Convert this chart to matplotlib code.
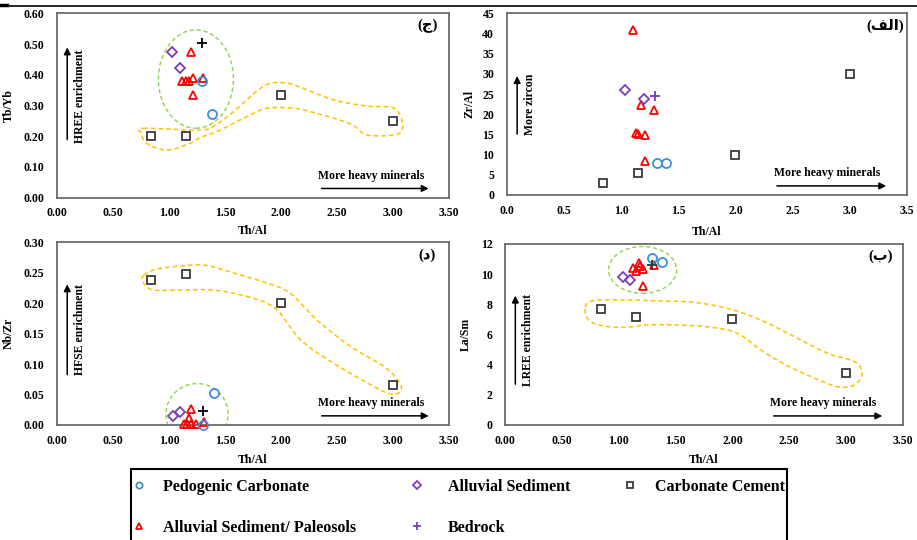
import numpy as np
import matplotlib
matplotlib.use('Agg')
import matplotlib.pyplot as plt
from matplotlib.lines import Line2D
from matplotlib.patches import Ellipse, Rectangle
from matplotlib.ticker import FixedLocator, FormatStrFormatter

plt.rcParams['font.family'] = ['Liberation Serif', 'DejaVu Sans']
plt.rcParams['font.weight'] = 'bold'

# Th/Al of the carbonate cement samples (same in every panel)
cement_th_al = [0.84, 1.15, 2.00, 3.00]

# panel (ج) Tb/Yb
tb_pedo_x, tb_pedo_y = [1.29, 1.385], [0.381, 0.273]
tb_allu_x, tb_allu_y = [1.03, 1.10], [0.475, 0.423]
tb_bed_x, tb_bed_y = [1.29], [0.502]
tb_paleo_x = [1.12, 1.15, 1.18, 1.21, 1.30, 1.20, 1.21]
tb_paleo_y = [0.38, 0.38, 0.38, 0.39, 0.39, 0.475, 0.334]
tb_cement_y = [0.20, 0.20, 0.335, 0.25]

# panel (الف) Zr/Al
zr_pedo_x, zr_pedo_y = [1.31, 1.39], [8.0, 8.0]
zr_allu_x, zr_allu_y = [1.03, 1.20], [26.0, 23.7]
zr_bed_x, zr_bed_y = [1.30], [24.5]
zr_paleo_x = [1.10, 1.175, 1.29, 1.13, 1.15, 1.21, 1.21]
zr_paleo_y = [40.9, 22.2, 21.1, 15.4, 15.0, 14.9, 8.5]
zr_cement_y = [2.9, 5.4, 9.8, 29.9]

# panel (د) Nb/Zr
nb_pedo_x, nb_pedo_y = [1.40, 1.30], [0.052, 0.000]
nb_allu_x, nb_allu_y = [1.035, 1.10], [0.015, 0.021]
nb_bed_x, nb_bed_y = [1.30], [0.023]
nb_paleo_x = [1.20, 1.13, 1.16, 1.20, 1.24, 1.18, 1.31]
nb_paleo_y = [0.026, 0.002, 0.002, 0.002, 0.002, 0.012, 0.005]
nb_cement_y = [0.238, 0.248, 0.200, 0.066]

# panel (ب) La/Sm
la_pedo_x, la_pedo_y = [1.29, 1.385], [11.1, 10.8]
la_allu_x, la_allu_y = [1.035, 1.10], [9.8, 9.6]
la_bed_x, la_bed_y = [1.29], [10.6]
la_paleo_x = [1.13, 1.15, 1.18, 1.19, 1.21, 1.31, 1.21]
la_paleo_y = [10.4, 10.2, 10.75, 10.55, 10.35, 10.6, 9.2]
la_cement_y = [7.67, 7.18, 7.0, 3.47]

c_pedo = '#3a8fdb'
c_allu = '#7a3fb0'
c_paleo = '#ff0000'
c_cement = '#3a3a3a'
c_green = '#92d050'
c_orange = '#ffc000'


def smooth_loop(pts, n=14):
    # closed catmull-rom curve through the outline points
    pts = np.asarray(pts, dtype=float)
    m = len(pts)
    out = []
    for i in range(m):
        p0, p1, p2, p3 = pts[i - 1], pts[i], pts[(i + 1) % m], pts[(i + 2) % m]
        for t in np.linspace(0, 1, n, endpoint=False):
            out.append(0.5 * (2 * p1 + (-p0 + p2) * t + (2 * p0 - 5 * p1 + 4 * p2 - p3) * t ** 2
                              + (-p0 + 3 * p1 - 3 * p2 + p3) * t ** 3))
    out.append(out[0])
    return np.array(out)


def draw_panel(ax, pedo, allu, bed, paleo, cement_y, bed_color):
    kw = dict(linestyle='none', mfc='none', mew=1.3, clip_on=False, zorder=5)
    ax.plot(cement_th_al, cement_y, marker='s', ms=6, mec=c_cement, **kw)
    ax.plot(paleo[0], paleo[1], marker='^', ms=6, mec=c_paleo, **kw)
    ax.plot(allu[0], allu[1], marker='D', ms=5, mec=c_allu, **kw)
    ax.plot(pedo[0], pedo[1], marker='o', ms=6.5, mec=c_pedo, **kw)
    ax.plot(bed[0], bed[1], marker='+', ms=7, mec=bed_color, linestyle='none', mew=1.3,
            clip_on=False, zorder=6)


def dress(ax, xfmt, yticks, yfmt, ylabel, ylab_x, up_text, arrow_y, text_y, panel, xlab_y):
    ax.set_xlim(0, 3.5)
    ax.set_ylim(yticks[0], yticks[-1])
    ax.xaxis.set_major_locator(FixedLocator(np.arange(0, 3.51, 0.5)))
    ax.xaxis.set_major_formatter(FormatStrFormatter(xfmt))
    ax.yaxis.set_major_locator(FixedLocator(yticks))
    ax.yaxis.set_major_formatter(FormatStrFormatter(yfmt))
    ax.tick_params(length=0, labelsize=8.5)
    ax.tick_params(axis='x', pad=7)
    ax.tick_params(axis='y', pad=9)
    for s in ax.spines.values():
        s.set_color('#6b6b6b')
        s.set_linewidth(1.3)
    ax.set_ylabel(ylabel, fontsize=8.5, fontweight='bold')
    ax.yaxis.set_label_coords(ylab_x, 0.5)
    ax.set_xlabel('Th/Al', fontsize=8.5, fontweight='bold')
    ax.xaxis.set_label_coords(0.5, xlab_y)
    # vertical arrow and its text
    ax.annotate('', xy=(0.026, arrow_y[1]), xytext=(0.026, arrow_y[0]), xycoords='axes fraction',
                arrowprops=dict(arrowstyle='-|>', color='black', lw=1.1, mutation_scale=10))
    ax.text(0.058, text_y, up_text, transform=ax.transAxes, rotation=90, fontsize=8.5,
            ha='center', va='center')
    # horizontal arrow and its text
    ax.annotate('', xy=(0.955, 0.05), xytext=(0.668, 0.05), xycoords='axes fraction',
                arrowprops=dict(arrowstyle='-|>', color='black', lw=1.1, mutation_scale=10))
    ax.text(0.80, 0.12, 'More heavy minerals', transform=ax.transAxes, fontsize=8.5,
            ha='center', va='center')
    ax.text(0.945, 0.93, panel, transform=ax.transAxes, fontsize=10.5,
            ha='center', va='center', fontweight='bold')


fig = plt.figure(figsize=(9.17, 5.40), dpi=100)

# (ج) Tb/Yb
ax1 = fig.add_axes([0.0622, 0.6339, 0.4275, 0.3415])
draw_panel(ax1, (tb_pedo_x, tb_pedo_y), (tb_allu_x, tb_allu_y), (tb_bed_x, tb_bed_y),
           (tb_paleo_x, tb_paleo_y), tb_cement_y, 'black')
dress(ax1, '%.2f', np.arange(0, 0.61, 0.1), '%.2f', 'Tb/Yb', -0.107, 'HREE enrichment',
      (0.30, 0.83), 0.55, '(ج)', -0.15)
ax1.add_patch(Ellipse((1.24, 0.386), 0.67, 0.32, fill=False, ec=c_green, lw=1, ls=(0, (3, 2))))
loop1 = smooth_loop([(0.77, 0.226), (1.278, 0.22), (1.427, 0.24), (1.576, 0.28), (1.845, 0.363),
                     (2.024, 0.374), (2.173, 0.359), (2.472, 0.318), (2.77, 0.298), (3.009, 0.291),
                     (3.084, 0.242), (3.039, 0.207), (2.77, 0.204), (2.621, 0.24), (2.322, 0.274),
                     (2.113, 0.291), (1.875, 0.291), (1.725, 0.269), (1.576, 0.242), (1.427, 0.215),
                     (1.278, 0.196), (1.188, 0.177), (0.979, 0.155), (0.80, 0.177), (0.755, 0.209)])
ax1.plot(loop1[:, 0], loop1[:, 1], color=c_orange, lw=1.1, ls=(0, (3, 2)))

# (الف) Zr/Al
ax2 = fig.add_axes([0.5526, 0.6389, 0.4365, 0.3365])
draw_panel(ax2, (zr_pedo_x, zr_pedo_y), (zr_allu_x, zr_allu_y), (zr_bed_x, zr_bed_y),
           (zr_paleo_x, zr_paleo_y), zr_cement_y, c_allu)
dress(ax2, '%.1f', np.arange(0, 46, 5), '%d', 'Zr/Al', -0.079, 'More zircon',
      (0.32, 0.67), 0.50, '(\ufed2\ufedf\u0627)', -0.17)

# (د) Nb/Zr
ax3 = fig.add_axes([0.0622, 0.2130, 0.4275, 0.3383])
draw_panel(ax3, (nb_pedo_x, nb_pedo_y), (nb_allu_x, nb_allu_y), (nb_bed_x, nb_bed_y),
           (nb_paleo_x, nb_paleo_y), nb_cement_y, 'black')
dress(ax3, '%.2f', np.arange(0, 0.301, 0.05), '%.2f', 'Nb/Zr', -0.107, 'HFSE enrichment',
      (0.26, 0.785), 0.52, '(د)', -0.16)
ax3.add_patch(Ellipse((1.25, 0.018), 0.555, 0.10, fill=False, ec=c_green, lw=1, ls=(0, (3, 2))))
loop3 = smooth_loop([(0.776, 0.246), (0.89, 0.256), (1.158, 0.262), (1.337, 0.262), (1.516, 0.253),
                     (1.875, 0.233), (2.084, 0.216), (2.322, 0.172), (2.621, 0.129), (2.919, 0.096),
                     (3.054, 0.071), (3.069, 0.055), (2.979, 0.051), (2.83, 0.063), (2.472, 0.101),
                     (2.173, 0.14), (1.964, 0.189), (1.755, 0.208), (1.427, 0.221), (1.158, 0.222),
                     (0.89, 0.221), (0.80, 0.227), (0.764, 0.238)])
ax3.plot(loop3[:, 0], loop3[:, 1], color=c_orange, lw=1.1, ls=(0, (3, 2)))

# (ب) La/Sm
ax4 = fig.add_axes([0.5507, 0.2130, 0.4340, 0.3352])
draw_panel(ax4, (la_pedo_x, la_pedo_y), (la_allu_x, la_allu_y), (la_bed_x, la_bed_y),
           (la_paleo_x, la_paleo_y), la_cement_y, '#333333')
dress(ax4, '%.2f', np.arange(0, 13, 2), '%d', 'La/Sm', -0.084, 'LREE enrichment',
      (0.21, 0.73), 0.47, '(ب)', -0.16)
ax4.add_patch(Ellipse((1.21, 10.28), 0.60, 3.1, fill=False, ec=c_green, lw=1, ls=(0, (3, 2))))
loop4 = smooth_loop([(0.706, 7.8), (0.779, 8.24), (1.074, 8.29), (1.368, 8.22), (1.662, 8.13),
                     (1.956, 7.73), (2.25, 6.96), (2.544, 5.86), (2.838, 4.75), (3.074, 4.2),
                     (3.141, 3.43), (3.074, 2.65), (2.926, 2.54), (2.691, 3.2), (2.456, 4.04),
                     (2.25, 4.97), (2.044, 6.08), (1.809, 6.48), (1.515, 6.63), (1.25, 6.63),
                     (1.074, 6.48), (0.868, 6.56), (0.735, 6.96)])
ax4.plot(loop4[:, 0], loop4[:, 1], color=c_orange, lw=1.1, ls=(0, (3, 2)))

# page line at the top
fig.add_artist(Line2D([0, 1], [0.989, 0.989], color='black', lw=1.2, transform=fig.transFigure))
fig.add_artist(Line2D([0, 0.008], [0.991, 0.991], color='black', lw=2.5, transform=fig.transFigure))

# legend box at the bottom
W, H = 917.0, 540.0
fig.add_artist(Rectangle((131 / W, -0.02), (787 - 131) / W, 1 - 469 / H + 0.02, fill=False,
                         ec='black', lw=1.5, transform=fig.transFigure))
legend_items = [
    ('o', c_pedo, 'Pedogenic Carbonate', 139, 163, 487),
    ('D', c_allu, 'Alluvial Sediment', 417, 448, 487),
    ('s', c_cement, 'Carbonate Cement', 630, 655, 487),
    ('^', c_paleo, 'Alluvial Sediment/ Paleosols', 139, 163, 528),
    ('+', c_allu, 'Bedrock', 417, 448, 528),
]
for mk, col, label, mx, tx, py in legend_items:
    ms = 6 if mk == '+' else (4 if mk == 'D' else 4.5)
    fig.add_artist(Line2D([mx / W], [1 - (py - 2) / H], marker=mk, ms=ms, mfc='none', mec=col,
                          mew=1.3, linestyle='none', transform=fig.transFigure))
    fig.text(tx / W, 1 - py / H, label, fontsize=11.5, fontweight='bold', ha='left', va='center')

fig.savefig('out.png', dpi=100, facecolor='white')
